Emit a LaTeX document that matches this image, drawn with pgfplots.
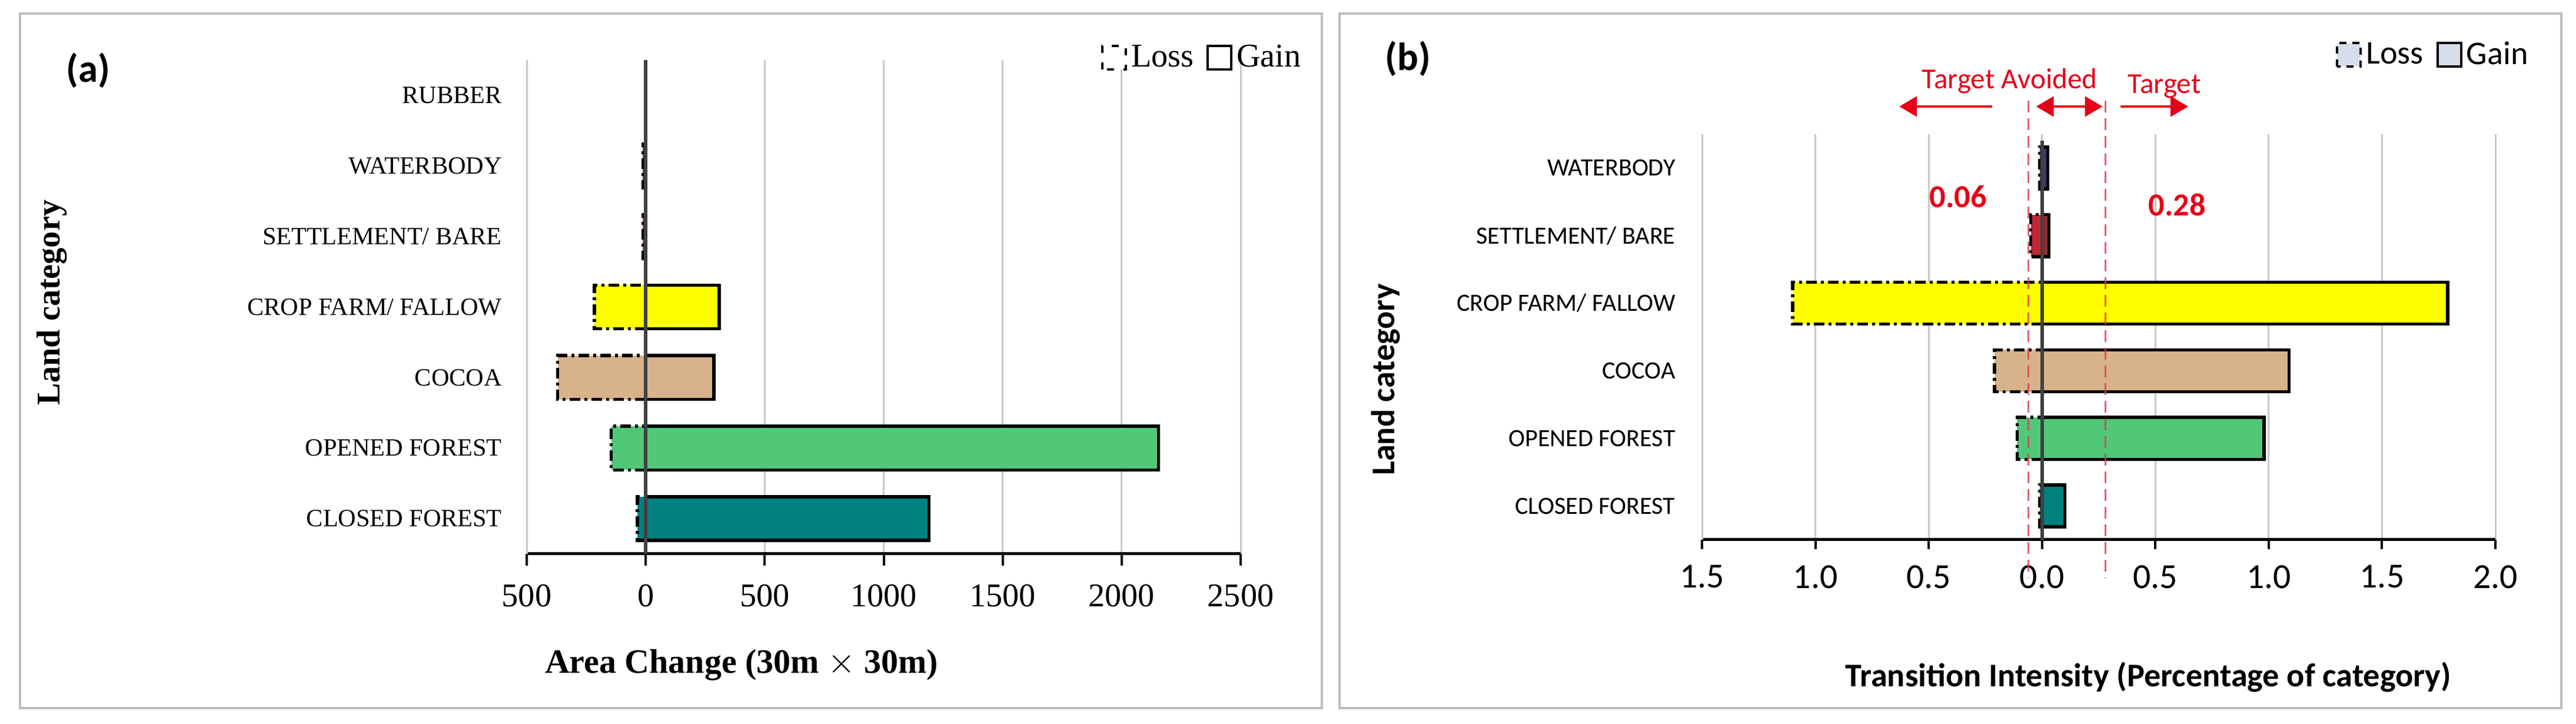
\documentclass[border=0pt]{standalone}
\usepackage{fontspec}
\setmainfont{Liberation Serif}
\newfontfamily\calfont{Carlito}
\usepackage{pgfplots}
\usepackage{pgfplotstable}
\pgfplotsset{compat=1.18}
\usetikzlibrary{arrows.meta}

\definecolor{c0}{RGB}{0,128,128}
\definecolor{c1}{RGB}{80,200,120}
\definecolor{c2}{RGB}{215,178,138}
\definecolor{c3}{RGB}{255,255,0}
\definecolor{c4}{RGB}{195,38,52}
\definecolor{c5}{RGB}{58,62,102}
\definecolor{c6}{RGB}{150,150,150}
\colorlet{g0}{c0}
\colorlet{g1}{c1}
\colorlet{g2}{c2}
\colorlet{g3}{c3}
\definecolor{g4}{RGB}{145,40,50}
\colorlet{g5}{c5}
\definecolor{zeroline}{RGB}{64,64,64}
\definecolor{gridgray}{RGB}{200,200,200}
\definecolor{framegray}{RGB}{190,190,190}
\definecolor{tred}{RGB}{230,0,25}
\definecolor{tdash}{RGB}{215,60,80}
\definecolor{legfill}{RGB}{215,222,235}

% area change (pixels of 30m x 30m), 0 = closed forest ... 6 = rubber
\pgfplotstableread{
idx loss gain
0 -35 1190
1 -145 2155
2 -370 287
3 -215 309
4 -12 0
5 -12 0
6 0 0
}\areatab

% transition intensity (% of category), 0 = closed forest ... 5 = waterbody
\pgfplotstableread{
idx loss gain
0 -0.01 0.10
1 -0.11 0.98
2 -0.21 1.09
3 -1.10 1.79
4 -0.05 0.03
5 -0.01 0.025
}\inttab

\pgfplotsset{
  lossbar/.style={xbar, bar width=0.62, bar shift=0pt, draw=black, line width=0.55mm,
    dash pattern=on 1.8mm off 0.7mm on 0.5mm off 0.7mm},
  gainbar/.style={xbar, bar width=0.62, bar shift=0pt, draw=black, line width=0.55mm},
  legbox/.style={legend image code/.code={\draw[##1] (0mm,-2mm) rectangle (4mm,2mm);}},
}

\begin{document}
\begin{tikzpicture}
\useasboundingbox (0,0) rectangle (437.7mm,123mm);

% panel frames
\draw[framegray, line width=0.4mm] (3.4mm,2.7mm) rectangle (224.6mm,120.7mm);
\draw[framegray, line width=0.4mm] (227.6mm,2.7mm) rectangle (435.2mm,120.7mm);

% ---------- (a) ----------
\begin{axis}[
  at={(89.5mm,28.9mm)}, anchor=south west,
  scale only axis, width=121.3mm, height=83.9mm,
  xmin=-500, xmax=2500, ymin=-0.5, ymax=6.5,
  axis x line*=bottom, axis y line*=left,
  x axis line style={black, line width=0.5mm},
  y axis line style={gridgray, line width=0.3mm},
  xtick={-500,0,500,1000,1500,2000,2500},
  xticklabels={500,0,500,1000,1500,2000,2500},
  xtick align=outside, major tick length=2mm,
  xtick style={black, line width=0.4mm},
  ytick={0,...,6},
  yticklabels={CLOSED FOREST,OPENED FOREST,COCOA,CROP FARM/ FALLOW,SETTLEMENT/ BARE,WATERBODY,RUBBER},
  ytick style={draw=none},
  xmajorgrids, grid style={gridgray, line width=0.3mm},
  /pgf/number format/assume math mode=true,
  xticklabel style={font=\fontsize{16}{16}\selectfont, yshift=-2mm},
  yticklabel style={font=\fontsize{12}{12}\selectfont, xshift=-3mm},
  legend columns=2,
  legend style={draw=none, fill=none, inner sep=0pt, at={(1.091,1.005)}, anchor=east,
    font=\fontsize{16}{16}\selectfont,
    /tikz/every even column/.append style={column sep=1.5mm}},
  clip=false,
]
\addlegendimage{legbox, draw=black, line width=0.4mm, dash pattern=on 1.2mm off 1.6mm, fill=white}
\addlegendentry{Loss}
\addlegendimage{legbox, draw=black, line width=0.4mm, fill=white}
\addlegendentry{Gain}
\pgfplotsinvokeforeach{0,...,5}{
  \addplot[lossbar, fill=c#1, restrict y to domain=#1:#1] table[x=loss, y=idx] \areatab;
  \addplot[gainbar, fill=c#1, restrict y to domain=#1:#1] table[x=gain, y=idx] \areatab;
}
\draw[zeroline, line width=0.6mm] (axis cs:0,-0.5) -- (axis cs:0,6.5);
\end{axis}

\node[font=\calfont\bfseries\fontsize{19}{19}\selectfont] at (15.0mm,111.0mm) {(a)};
\node[font=\bfseries\fontsize{16}{16}\selectfont, rotate=90] at (8.8mm,71.6mm) {Land category};
\node[font=\bfseries\fontsize{16.5}{16.5}\selectfont] at (126.0mm,10.0mm) {Area Change (30m $\times$ 30m)};

% ---------- (b) ----------
\begin{axis}[
  at={(289.2mm,31.3mm)}, anchor=south west,
  scale only axis, width=134.8mm, height=68.9mm,
  xmin=-1.5, xmax=2.0, ymin=-0.5, ymax=5.5,
  axis x line*=bottom, axis y line*=left,
  x axis line style={black, line width=0.5mm},
  y axis line style={gridgray, line width=0.3mm},
  xtick={-1.5,-1,-0.5,0,0.5,1,1.5,2},
  xticklabels={1.5,1.0,0.5,0.0,0.5,1.0,1.5,2.0},
  xtick align=outside, major tick length=1.6mm,
  xtick style={black, line width=0.4mm},
  ytick={0,...,5},
  yticklabels={CLOSED FOREST,OPENED FOREST,COCOA,CROP FARM/ FALLOW,SETTLEMENT/ BARE,WATERBODY},
  ytick style={draw=none},
  xmajorgrids, grid style={gridgray, line width=0.3mm},
  /pgf/number format/assume math mode=true,
  xticklabel style={font=\calfont\fontsize{17}{17}\selectfont, yshift=-1.5mm},
  yticklabel style={font=\calfont\fontsize{12}{12}\selectfont, xshift=-3.3mm},
  legend columns=2,
  legend style={draw=none, fill=none, inner sep=0pt, at={(1.047,1.196)}, anchor=east,
    font=\calfont\fontsize{16}{16}\selectfont,
    /tikz/every even column/.append style={column sep=1.5mm}},
  clip=false,
]
\addlegendimage{legbox, draw=black, line width=0.4mm, dash pattern=on 1.2mm off 1mm, fill=legfill}
\addlegendentry{Loss}
\addlegendimage{legbox, draw=black, line width=0.4mm, fill=legfill}
\addlegendentry{Gain}
\pgfplotsinvokeforeach{0,...,5}{
  \addplot[lossbar, fill=c#1, restrict y to domain=#1:#1] table[x=loss, y=idx] \inttab;
  \addplot[gainbar, fill=g#1, restrict y to domain=#1:#1] table[x=gain, y=idx] \inttab;
}
% uniform intensities
\draw[tdash, line width=0.3mm, dash pattern=on 2mm off 1mm, opacity=0.8] (axis cs:-0.06,6.0) -- (axis cs:-0.06,-1.07);
\draw[tdash, line width=0.3mm, dash pattern=on 2mm off 1mm, opacity=0.8] (axis cs:0.28,6.0) -- (axis cs:0.28,-1.07);
\draw[zeroline, line width=0.55mm] (axis cs:0,-0.5) -- (axis cs:0,5.4);
\draw[tred, line width=0.45mm, -{Triangle[length=3mm,width=3.4mm]}] (axis cs:-0.22,5.91) -- (axis cs:-0.63,5.91);
\draw[tred, line width=0.45mm, {Triangle[length=3mm,width=3.4mm]}-{Triangle[length=3mm,width=3.4mm]}] (axis cs:-0.026,5.91) -- (axis cs:0.267,5.91);
\draw[tred, line width=0.45mm, -{Triangle[length=3mm,width=3.4mm]}] (axis cs:0.345,5.91) -- (axis cs:0.645,5.91);
\node[text=tred, font=\calfont\fontsize{14}{14}\selectfont] at (axis cs:-0.143,6.29) {Target Avoided};
\node[text=tred, font=\calfont\fontsize{14}{14}\selectfont] at (axis cs:0.54,6.205) {Target};
\node[text=tred, font=\calfont\bfseries\fontsize{15.5}{15.5}\selectfont] at (axis cs:-0.37,4.58) {0.06};
\node[text=tred, font=\calfont\bfseries\fontsize{15.5}{15.5}\selectfont] at (axis cs:0.596,4.455) {0.28};
\end{axis}

\node[font=\calfont\bfseries\fontsize{19}{19}\selectfont] at (239.2mm,113.0mm) {(b)};
\node[font=\calfont\bfseries\fontsize{16}{16}\selectfont, rotate=90] at (235.4mm,58.5mm) {Land category};
\node[font=\calfont\bfseries\fontsize{16}{16}\selectfont] at (365.0mm,8.0mm) {Transition Intensity (Percentage of category)};
\end{tikzpicture}
\end{document}
